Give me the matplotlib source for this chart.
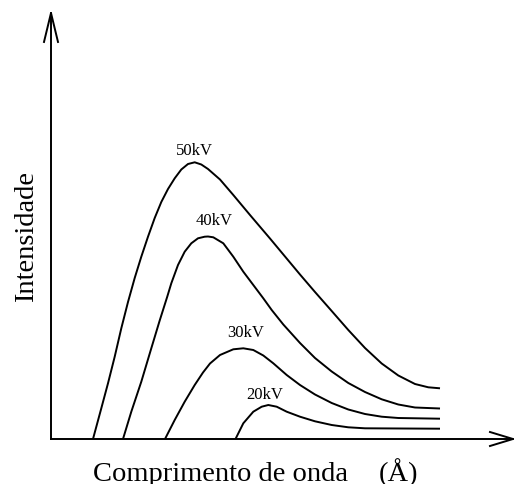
import matplotlib
matplotlib.use("Agg")
import matplotlib.pyplot as plt

plt.rcParams['font.family'] = ['Liberation Serif', 'DejaVu Serif']

# Continuous X-ray spectrum for several tube voltages (arbitrary units)
lambda_50 = [0.42, 0.503, 0.57, 0.637, 0.703, 0.77, 0.837, 0.903, 0.97, 1.037,
             1.103, 1.17, 1.237, 1.303, 1.37, 1.437, 1.503, 1.57, 1.69, 1.823,
             1.99, 2.19, 2.49, 2.64, 2.807, 2.973, 3.14, 3.307, 3.473, 3.64,
             3.773, 3.89]
int_50 = [0.0, 0.307, 0.557, 0.823, 1.107, 1.37, 1.61, 1.823, 2.023, 2.21,
          2.37, 2.50, 2.607, 2.695, 2.75, 2.767, 2.745, 2.70, 2.595, 2.44,
          2.24, 2.005, 1.645, 1.47, 1.28, 1.09, 0.91, 0.755, 0.635, 0.55,
          0.517, 0.507]

lambda_40 = [0.72, 0.803, 0.903, 1.003, 1.087, 1.163, 1.203, 1.27, 1.337, 1.403,
             1.47, 1.537, 1.57, 1.623, 1.723, 1.823, 1.923, 2.023, 2.123, 2.207,
             2.323, 2.49, 2.64, 2.807, 2.973, 3.14, 3.307, 3.473, 3.64, 3.89]
int_40 = [0.0, 0.273, 0.573, 0.907, 1.185, 1.425, 1.557, 1.74, 1.873, 1.957,
          2.007, 2.023, 2.025, 2.017, 1.957, 1.823, 1.673, 1.54, 1.407, 1.29,
          1.145, 0.96, 0.81, 0.675, 0.56, 0.47, 0.397, 0.345, 0.315, 0.305]

lambda_30 = [1.14, 1.237, 1.337, 1.437, 1.52, 1.59, 1.69, 1.823, 1.923, 2.023,
             2.123, 2.223, 2.357, 2.49, 2.64, 2.807, 2.973, 3.14, 3.307, 3.473,
             3.89]
int_30 = [0.0, 0.19, 0.373, 0.54, 0.665, 0.755, 0.84, 0.897, 0.907, 0.89,
          0.835, 0.757, 0.64, 0.54, 0.445, 0.36, 0.295, 0.25, 0.223, 0.21,
          0.203]

lambda_20 = [1.845, 1.923, 2.023, 2.107, 2.173, 2.257, 2.357, 2.49, 2.64, 2.807,
             2.973, 3.14, 3.89]
int_20 = [0.0, 0.157, 0.273, 0.323, 0.34, 0.323, 0.273, 0.223, 0.177, 0.14,
          0.117, 0.107, 0.103]

series = [
    (lambda_50, int_50, "50kV", 1.43, 2.84),
    (lambda_40, int_40, "40kV", 1.63, 2.14),
    (lambda_30, int_30, "30kV", 1.945, 1.023),
    (lambda_20, int_20, "20kV", 2.14, 0.40),
]

W, H = 514, 484
fig = plt.figure(figsize=(W / 100, H / 100), dpi=100)
fig.patch.set_facecolor('white')
ax = fig.add_axes([51 / W, 45 / H, 462 / W, 426 / H])
ax.set_xlim(0, 4.62)
ax.set_ylim(0, 4.26)
ax.axis('off')

lw = 1.4
for xs, ys, label, lx, ly in series:
    ax.plot(xs, ys, color='black', lw=lw, solid_joinstyle='round',
            solid_capstyle='butt')
    ax.text(lx, ly, label, ha='center', va='baseline', fontsize=12)

# Axes drawn as open arrows
tr = ax.transAxes
ax.plot([0, 0], [0, 1], color='black', lw=lw, transform=tr, clip_on=False)
ax.plot([0, 1], [0, 0], color='black', lw=lw, transform=tr, clip_on=False)
ax.plot([-0.01515, 0, 0.01515], [0.932, 1, 0.932], color='black', lw=lw,
        transform=tr, clip_on=False, solid_joinstyle='miter')
ax.plot([0.9502, 1, 0.9502], [0.01643, 0, -0.01643], color='black', lw=lw,
        transform=tr, clip_on=False, solid_joinstyle='miter')

fig.text(220.5 / W, 1 - 481 / H, "Comprimento de onda", ha='center',
         va='baseline', fontsize=20.5)
fig.text(398.5 / W, 1 - 481 / H, "(Å)", ha='center', va='baseline', fontsize=20.5)
fig.text(33 / W, 1 - 237 / H, "Intensidade", rotation=90, rotation_mode='anchor',
         ha='center', va='baseline', fontsize=20.5)

fig.savefig("out.png", dpi=100)
